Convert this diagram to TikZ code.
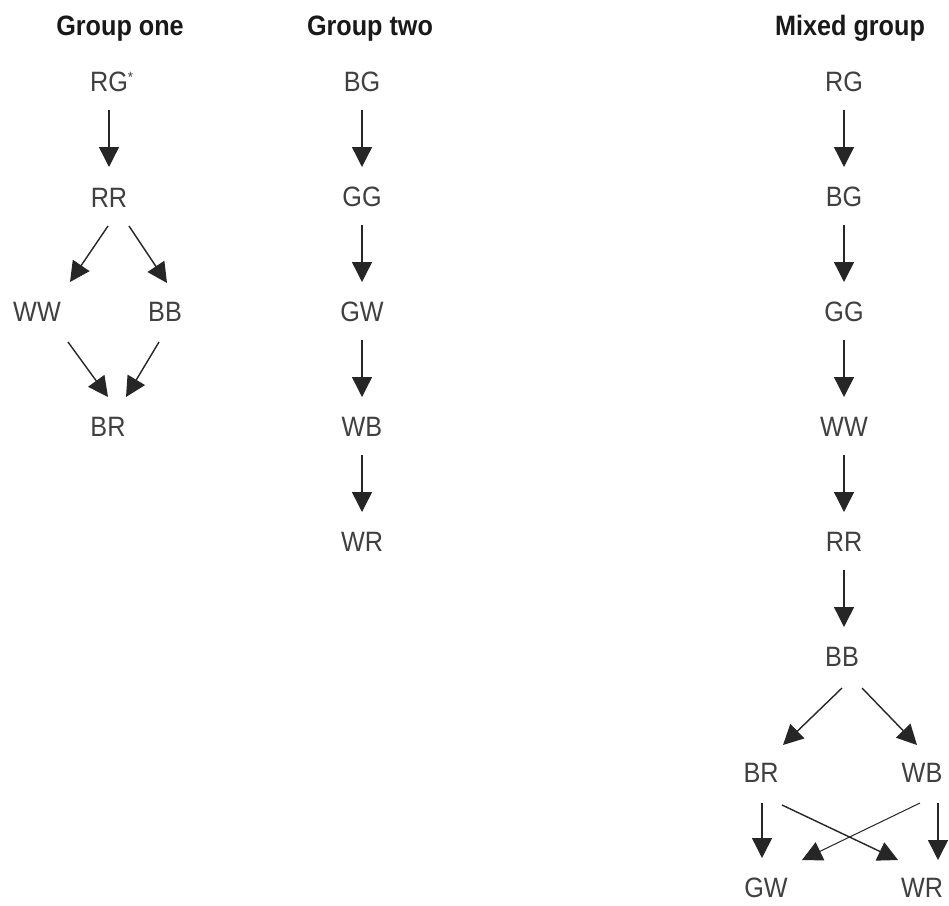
\documentclass[tikz,border=0pt]{standalone}
\usepackage{fontspec}
\setmainfont{Liberation Sans}
\newfontfamily\lblfont[FakeStretch=0.9]{Liberation Sans}
\usetikzlibrary{arrows.meta}
\begin{document}
\begin{tikzpicture}[x=1pt,y=-1pt,
  lbl/.style={inner sep=0pt, font=\lblfont\fontsize{28}{28}\selectfont, text=black!75},
  ttl/.style={inner sep=0pt, anchor=base, font=\lblfont\bfseries\fontsize{28}{28}\selectfont, text=black!90},
  arr/.style={-{Triangle[length=20pt,width=20pt]}, line width=1.4pt, draw=black!85}]
\useasboundingbox[fill=white] (0,0) rectangle (949,905);

% titles
\node[ttl] (t1) at (120,35) {Group one};
\node[ttl] (t2) at (370,35) {Group two};
\node[ttl] (t3) at (850,35) {Mixed group};

% group one
\node[lbl] (a1) at (109,82) {RG\rlap{\fontsize{15}{15}\selectfont\raisebox{9pt}{*}}};
\node[lbl] (a2) at (109,198) {RR};
\node[lbl] (a3) at (37,312) {WW};
\node[lbl] (a4) at (165,312) {BB};
\node[lbl] (a5) at (108,427) {BR};

\draw[arr] ([shift={(0,28)}]a1.center) -- ([shift={(0,-31)}]a2.center);
\draw[arr] ([shift={(-1,28)}]a2.center) -- ([shift={(33,-30)}]a3.center);
\draw[arr] ([shift={(20,28)}]a2.center) -- ([shift={(2,-29)}]a4.center);
\draw[arr] ([shift={(31,30)}]a3.center) -- ([shift={(0,-30)}]a5.center);
\draw[arr] ([shift={(-6,30)}]a4.center) -- ([shift={(18,-30)}]a5.center);

% group two
\node[lbl] (b1) at (362,82) {BG};
\node[lbl] (b2) at (362,197) {GG};
\node[lbl] (b3) at (362,312) {GW};
\node[lbl] (b4) at (362,427) {WB};
\node[lbl] (b5) at (362,542) {WR};
\foreach \u/\v in {b1/b2,b2/b3,b3/b4,b4/b5}
  \draw[arr] ([shift={(0,28)}]\u.center) -- ([shift={(0,-30)}]\v.center);

% mixed group
\node[lbl] (c1) at (844,82) {RG};
\node[lbl] (c2) at (844,197) {BG};
\node[lbl] (c3) at (844,312) {GG};
\node[lbl] (c4) at (844,427) {WW};
\node[lbl] (c5) at (844,542) {RR};
\node[lbl] (c6) at (842,657) {BB};
\foreach \u/\v in {c1/c2,c2/c3,c3/c4,c4/c5}
  \draw[arr] ([shift={(0,28)}]\u.center) -- ([shift={(0,-30)}]\v.center);
\draw[arr] ([shift={(0,28)}]c5.center) -- ([shift={(2,-30)}]c6.center);

\node[lbl] (c7) at (761,773) {BR};
\node[lbl] (c8) at (922,773) {WB};
\node[lbl] (c9) at (766,888) {GW};
\node[lbl] (c10) at (922,888) {WR};

\draw[arr] ([shift={(0,31)}]c6.center) -- ([shift={(22,-28)}]c7.center);
\draw[arr] ([shift={(20,31)}]c6.center) -- ([shift={(-5,-28)}]c8.center);
\draw[arr] ([shift={(1,30)}]c7.center) -- ([shift={(-4,-30)}]c9.center);
\draw[arr] ([shift={(16,30)}]c8.center) -- ([shift={(16,-28)}]c10.center);
\draw[arr] ([shift={(21,32)}]c7.center) -- ([shift={(-24,-28)}]c10.center);
\draw[arr, line width=1pt] ([shift={(-2,30)}]c8.center) -- ([shift={(36,-28)}]c9.center);
\end{tikzpicture}
\end{document}
